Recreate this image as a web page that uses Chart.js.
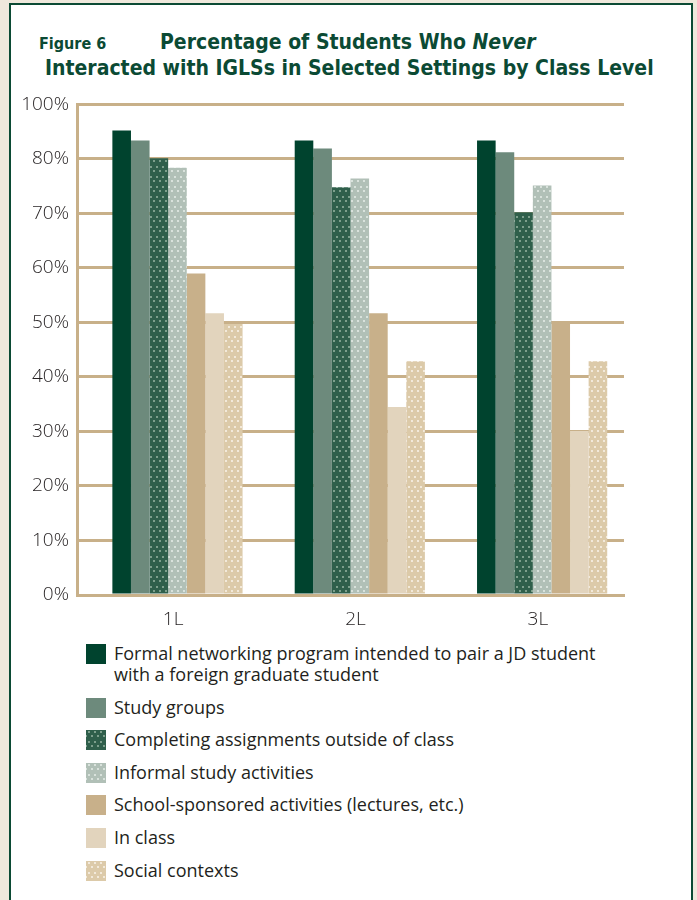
<!DOCTYPE html>
<html>
<head>
<meta charset="utf-8">
<script src="https://cdn.jsdelivr.net/npm/chart.js@4.4.1/dist/chart.umd.min.js"></script>
<style>
  html, body { margin: 0; padding: 0; }
  body { width: 697px; height: 900px; background: #efe8dc; position: relative; overflow: hidden; }
  .frame {
    position: absolute; left: 9px; top: 3px; width: 680px; height: 910px;
    border: 2.5px solid #0b4a34; background: #fff;
  }
  .title { position: absolute; left: 0; top: 0; color: #0b4a34; font-family: "Liberation Sans Narrow", "DejaVu Sans Condensed", sans-serif; font-weight: bold; }
  .fig { position: absolute; left: 28px; top: 29px; font-size: 16px; white-space: nowrap; }
  .t1 { position: absolute; left: 149px; top: 25px; font-size: 21px; white-space: nowrap; }
  .t2 { position: absolute; left: 34px; top: 51px; font-size: 21px; white-space: nowrap; }
  .t1 em { font-style: italic; }
  #chartWrap { position: absolute; left: -1px; top: 80px; width: 616px; height: 547px; }
  #legend { position: absolute; left: 75px; top: 638px; margin: 0; padding: 0; list-style: none;
    font-family: "Open Sans", sans-serif; font-weight: 400; font-size: 18px; color: #231f20; }
  #legend li { position: relative; padding-left: 28px; line-height: 21px; margin-bottom: 11.6px; }
  #legend canvas { position: absolute; left: 0; top: 1px; width: 20px; height: 20px; }
</style>
</head>
<body>
<div class="frame">
  <div class="title">
    <div class="fig">Figure 6</div>
    <div class="t1">Percentage of Students Who <em>Never</em></div>
    <div class="t2">Interacted with IGLSs in Selected Settings by Class Level</div>
  </div>
  <div id="chartWrap"><canvas id="chart" width="616" height="547"></canvas></div>
  <ul id="legend"></ul>
</div>
<script>
// class levels along the x axis
const classLevels = ['1L', '2L', '3L'];

// settings, in legend order
const settings = [
  ['Formal networking program intended to pair a JD student', 'with a foreign graduate student'],
  'Study groups',
  'Completing assignments outside of class',
  'Informal study activities',
  'School-sponsored activities (lectures, etc.)',
  'In class',
  'Social contexts'
];

// percent who never interacted, per setting, for 1L / 2L / 3L
const formalNetworking = [85.2, 83.4, 83.4];
const studyGroups      = [83.4, 81.9, 81.2];
const assignments      = [80.1, 74.8, 70.2];
const informalStudy    = [78.4, 76.4, 75.1];
const schoolSponsored  = [59.0, 51.7, 49.7];
const inClass          = [51.7, 34.5, 30.1];
const socialContexts   = [49.7, 42.9, 42.9];

// y axis tick text, one per 10-point step (top line is printed as 100%)
const tickLabels = ['0%', '10%', '20%', '30%', '40%', '50%', '60%', '70%', '80%', '100%'];

const TAN = '#c8b089';

// small staggered dot texture used on the dotted bars
function dotted(base, dot) {
  const c = document.createElement('canvas');
  c.width = 6; c.height = 10;
  const g = c.getContext('2d');
  g.fillStyle = base;
  g.fillRect(0, 0, 6, 10);
  g.fillStyle = dot;
  g.fillRect(2, 1, 2, 2);
  g.fillRect(5, 5, 1, 2);
  g.fillRect(0, 5, 1, 2);
  return g.createPattern(c, 'repeat');
}

const series = [formalNetworking, studyGroups, assignments, informalStudy, schoolSponsored, inClass, socialContexts];
const fills = [
  '#00432e',
  '#6d8a7c',
  dotted('#2f5f4b', '#7d9f8c'),
  dotted('#b1c0b7', '#d9e2dc'),
  '#c8b08a',
  '#e2d4bd',
  dotted('#dccaa9', '#f2e9da')
];

const barOpts = { borderWidth: 0, barPercentage: 1.0, categoryPercentage: 0.816 };

// an empty leading slot nudges each group of bars right of the tick
const datasets = [{ label: '', data: [], ...barOpts }].concat(series.map((values, i) => ({
  label: Array.isArray(settings[i]) ? settings[i].join(' ') : settings[i],
  data: values,
  backgroundColor: fills[i],
  ...barOpts
})));

const ctx = document.getElementById('chart');
const chart = new Chart(ctx, {
  type: 'bar',
  data: { labels: classLevels, datasets: datasets },
  options: {
    responsive: false,
    animation: false,
    layout: { padding: { top: 17, right: 2, left: 0, bottom: 0 } },
    plugins: { legend: { display: false }, tooltip: { enabled: false } },
    scales: {
      x: {
        grid: { display: false },
        border: { color: TAN, width: 3 },
        ticks: {
          color: '#231f20',
          padding: 5,
          labelOffset: 5,
          font: { family: 'Open Sans', weight: 300, size: 19 }
        },
        afterFit: (s) => { s.height = 37; }
      },
      y: {
        min: 0,
        max: 90,
        grid: { color: TAN, lineWidth: 3, drawTicks: false },
        border: { color: TAN, width: 3 },
        ticks: {
          stepSize: 10,
          padding: 8,
          color: '#231f20',
          font: { family: 'Open Sans', weight: 300, size: 19 },
          callback: (v) => tickLabels[Math.round(v / 10)]
        },
        afterFit: (s) => { s.width = 67; }
      }
    }
  }
});

// legend with wrapped text and swatches filled like the bars
const legendList = document.getElementById('legend');
settings.forEach((name, i) => {
  const li = document.createElement('li');
  const sw = document.createElement('canvas');
  sw.width = 20; sw.height = 20;
  const g = sw.getContext('2d');
  g.fillStyle = fills[i];
  g.fillRect(0, 0, 20, 20);
  li.appendChild(sw);
  const lines = Array.isArray(name) ? name : [name];
  lines.forEach((line, k) => {
    if (k > 0) li.appendChild(document.createElement('br'));
    li.appendChild(document.createTextNode(line));
  });
  legendList.appendChild(li);
});
</script>
</body>
</html>
